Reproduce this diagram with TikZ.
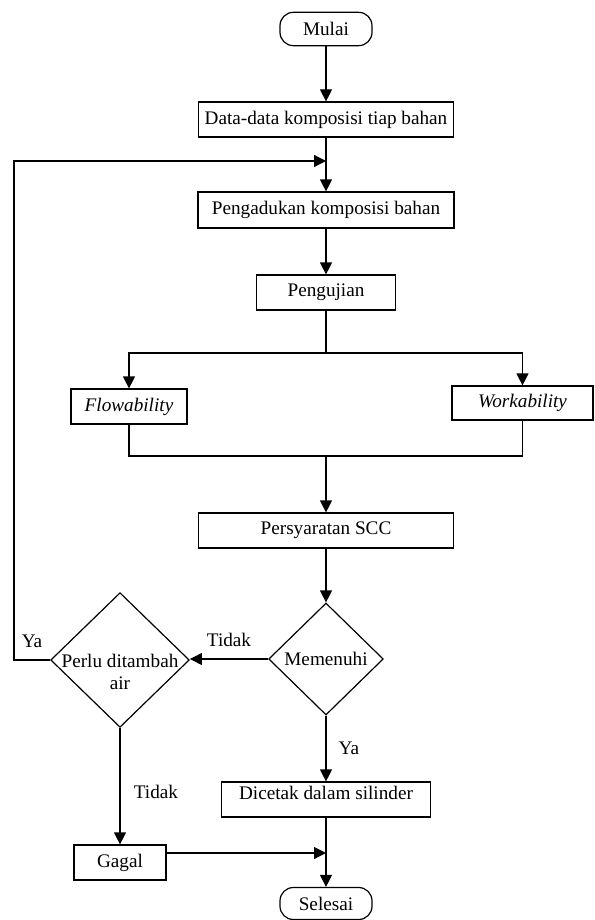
\documentclass[tikz,border=0pt]{standalone}
\usepackage{fontspec}
\setmainfont{Liberation Serif}
\usetikzlibrary{shapes.geometric}
\usetikzlibrary{arrows.meta}

\begin{document}
\begin{tikzpicture}[x = .75pt, y = -.75pt, line width = .9pt,
		font = \fontsize{14.4}{16}\selectfont,
		kotak/.style = {draw, rectangle, inner sep = 2pt, minimum height = 26.25pt},
		ujung/.style = {draw, rectangle, rounded corners = 10pt, inner sep = 2pt, minimum width = 69pt, minimum height = 25pt},
		keputusan/.style = {draw, diamond, inner sep = 0pt},
		panah/.style = {-{Triangle[length = 9pt, width = 9pt]}},
		ket/.style = {inner sep = 1pt}]
				\useasboundingbox (0,0) rectangle (594,920);
				\node[ujung] (mulai) at (326,29) {Mulai};
				\node[kotak, minimum width = 191.25pt] (data) at (326,119.5) {Data-data komposisi tiap bahan};
				\node[kotak, minimum width = 192pt, minimum height = 27pt] (aduk) at (326,210) {Pengadukan komposisi bahan};
				\node[kotak, minimum width = 104pt] (uji) at (326,292.5) {Pengujian};
				\node[kotak, minimum width = 87pt] (flow) at (129,406.5) {\textit{Flowability}};
				\node[kotak, minimum width = 105.75pt, minimum height = 25.5pt] (work) at (522.5,403) {\textit{Workability}};
				\node[kotak, minimum width = 191.25pt] (syarat) at (326,530.5) {Persyaratan SCC};
				\node[keputusan, minimum width = 86pt, minimum height = 84pt] (penuhi) at (326,659) {};
				\node (tpenuhi) at (penuhi) {Memenuhi};
				\node[keputusan, minimum width = 104pt, minimum height = 101pt] (perlu) at (120,660) {};
				\node[align = center] (tperlu) at ([yshift = -9pt]perlu.center) {Perlu ditambah\\air};
				\node[kotak, minimum width = 156.75pt, text height = 10pt, text depth = 10pt] (cetak) at (326,799.5) {Dicetak dalam silinder};
				\node[kotak, minimum width = 69pt] (gagal) at (120,862.5) {Gagal};
				\node[ujung, minimum height = 24pt] (selesai) at (326,903.5) {Selesai};
				\coordinate (masuk) at (326,161);
				\coordinate (balik) at (14,660);
				\coordinate (bagi) at (326,353);
				\coordinate (gabung) at (326,456);
				\coordinate (temu) at (326,853);
				\draw[panah] (mulai) -- (data);
				\draw[panah] (data) -- (aduk);
				\draw[panah] (aduk) -- (uji);
				\draw (uji) -- (bagi);
				\draw[panah] (bagi) -| (flow);
				\draw[panah] (bagi) -| (work);
				\draw (flow) |- (gabung) -| (work);
				\draw[panah] (gabung) -- (syarat);
				\draw[panah] (syarat) -- (penuhi);
				\draw[panah] (penuhi.west) -- node[ket, above = 8pt] (tidak1) {Tidak} (penuhi.west -| perlu.east);
				\draw[panah] (perlu.west) -- node[ket, above = 8pt] (ya1) {Ya} (balik) |- (masuk);
				\draw[panah] (penuhi.south) -- node[ket, right = 8pt] (ya2) {Ya} (cetak.north);
				\draw[panah] (perlu.south) -- node[ket, pos = .55, right = 9pt] (tidak2) {Tidak} (gagal.north);
				\draw[panah] (gagal.east |- temu) -- (temu);
				\draw[panah] (cetak) -- (selesai);
			\end{tikzpicture}
\end{document}
